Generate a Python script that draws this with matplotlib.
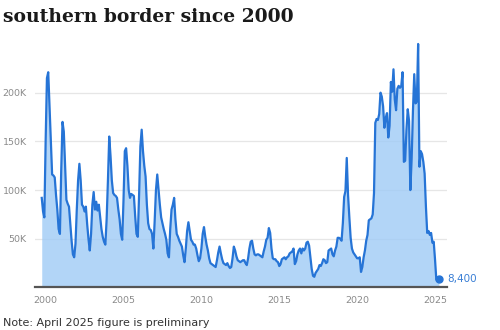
import numpy as np
import matplotlib
matplotlib.use("Agg")
import matplotlib.pyplot as plt

# Monthly apprehensions (thousands), calendar years; series starts Oct 1999
y1999 = [92, 78, 72]
y2000 = [150, 215, 221, 185, 150, 116, 115, 113, 95, 80, 60, 55]
y2001 = [120, 170, 160, 125, 90, 86, 83, 65, 48, 34, 31, 45]
y2002 = [80, 110, 127, 110, 85, 83, 78, 83, 65, 50, 38, 55]
y2003 = [85, 98, 80, 88, 79, 85, 72, 60, 52, 47, 44, 70]
y2004 = [110, 155, 135, 110, 97, 95, 94, 92, 80, 70, 55, 49]
y2005 = [90, 140, 143, 125, 100, 92, 96, 95, 94, 73, 55, 52]
y2006 = [95, 145, 162, 140, 125, 114, 85, 66, 60, 59, 55, 40]
y2007 = [68, 100, 116, 100, 85, 72, 66, 60, 55, 49, 35, 31]
y2008 = [60, 80, 85, 92, 70, 55, 52, 48, 45, 42, 33, 26]
y2009 = [40, 58, 67, 58, 49, 47, 44, 44, 40, 33, 27, 30]
y2010 = [40, 55, 62, 52, 44, 38, 30, 25, 24, 23, 22, 21]
y2011 = [28, 36, 42, 35, 29, 25, 24, 23, 25, 22, 20, 21]
y2012 = [30, 42, 38, 32, 28, 27, 26, 27, 28, 28, 25, 23]
y2013 = [30, 40, 47, 48, 40, 34, 33, 34, 34, 33, 32, 31]
y2014 = [37, 42, 49, 51, 61, 56, 40, 30, 29, 29, 27, 26]
y2015 = [22, 24, 29, 30, 31, 29, 31, 32, 35, 36, 37, 40]
y2016 = [24, 27, 34, 38, 40, 35, 40, 38, 40, 46, 47, 43]
y2017 = [31, 19, 12, 11, 15, 17, 19, 23, 22, 25, 29, 28]
y2018 = [25, 26, 38, 39, 40, 34, 32, 38, 42, 51, 51, 50]
y2019 = [48, 66, 93, 99, 133, 95, 72, 51, 40, 36, 34, 32]
y2020 = [30, 30, 31, 16, 21, 31, 38, 48, 54, 69, 70, 71]
y2021 = [75, 97, 169, 173, 172, 178, 200, 196, 186, 164, 174, 179]
y2022 = [154, 166, 211, 201, 224, 193, 182, 204, 207, 205, 207, 221]
y2023 = [129, 130, 162, 183, 171, 100, 132, 181, 219, 189, 191, 250]
y2024 = [124, 140, 137, 129, 117, 83, 56, 58, 54, 56, 46, 47]
y2025 = [29, 8.3, 7.2, 8.4]

y_ticks = [50000, 100000, 150000, 200000]
y_tick_labels = ["50K", "100K", "150K", "200K"]
x_ticks = [2000, 2005, 2010, 2015, 2020, 2025]
last_label = "8,400"

years = [y1999, y2000, y2001, y2002, y2003, y2004, y2005, y2006, y2007,
         y2008, y2009, y2010, y2011, y2012, y2013, y2014, y2015, y2016,
         y2017, y2018, y2019, y2020, y2021, y2022, y2023, y2024, y2025]
values = np.array([v for yr in years for v in yr]) * 1000
t = 1999.75 + np.arange(len(values)) / 12.0

fig = plt.figure(figsize=(5, 3.3), dpi=100)
ax = fig.add_axes([0.07, 0.1288, 0.824, 0.7527])

line_c = "#2674d6"
fill_c = "#9fcbf6"

ax.fill_between(t, 0, values, color=fill_c, alpha=0.8, lw=0, zorder=2)
ax.plot(t, values, color=line_c, lw=1.6, zorder=3, solid_joinstyle="round")
ax.plot(t[-1], values[-1], "o", color=line_c, ms=5, zorder=4)
ax.text(t[-1] + 0.55, values[-1], last_label, color="#3a7fd5", fontsize=7.5,
        va="center", ha="left")

ax.set_xlim(1999.317, 2025.77)
ax.set_ylim(0, 255000)
ax.set_yticks(y_ticks)
ax.set_yticklabels(y_tick_labels)
ax.set_xticks(x_ticks)
ax.set_xticklabels([str(x) for x in x_ticks])
ax.tick_params(axis="both", length=0, colors="#8a8a8a", labelsize=6.8)
ax.tick_params(axis="x", pad=6)
ax.tick_params(axis="y", pad=6)
ax.grid(axis="y", color="#e6e6e6", lw=0.9, zorder=1)
for s in ["top", "right", "left"]:
    ax.spines[s].set_visible(False)
ax.spines["bottom"].set_color("#555555")
ax.spines["bottom"].set_linewidth(1.6)
ax.spines["bottom"].set_zorder(5)

fig.text(0.006, 0.975, "southern border since 2000", fontsize=13.5,
         fontweight="bold", family="DejaVu Serif", color="#1a1a1a",
         va="top", ha="left")
fig.text(0.006, 0.036, "Note: April 2025 figure is preliminary", fontsize=8,
         color="#333333", va="top", ha="left")

fig.savefig("out.png", dpi=100)
